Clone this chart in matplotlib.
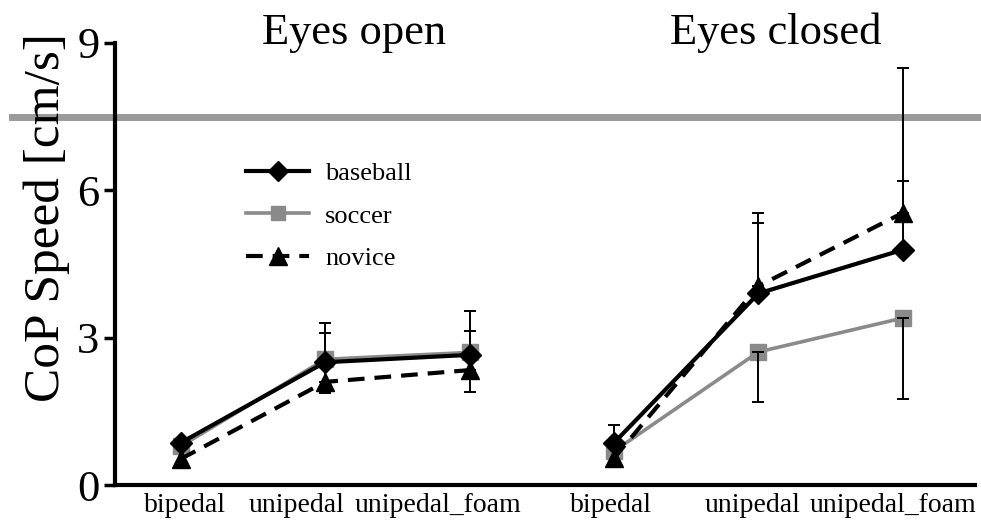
import matplotlib.pyplot as plt
import numpy as np

# conditions: eyes open (3) then eyes closed (3)
tasks = ["bipedal", "unipedal", "unipedal_foam", "bipedal", "unipedal", "unipedal_foam"]
conditions = ["Eyes open", "Eyes closed"]

baseball = [0.86, 2.50, 2.65, 0.86, 3.90, 4.79]
soccer = [0.79, 2.56, 2.70, 0.69, 2.71, 3.40]
novice = [0.53, 2.10, 2.34, 0.55, 4.05, 5.54]

# one-sided SD bars (up for baseball/novice, down for soccer)
baseball_sd = [0.0, 0.80, 0.90, 0.36, 1.43, 1.40]
novice_sd = [0.0, 1.00, 0.80, 0.0, 1.49, 2.95]
soccer_sd = [0.0, 0.69, 0.80, 0.0, 1.02, 1.65]

reference_level = 7.5


def main():
    plt.rcParams["font.family"] = ["Liberation Serif", "DejaVu Serif"]

    fig = plt.figure(figsize=(9.81, 5.29), dpi=100)
    ax = fig.add_axes([0.117, 0.083, 0.877, 0.836])

    x = np.arange(len(tasks)) * 1.0
    groups = [slice(0, 3), slice(3, 6)]

    styles = [
        ("soccer", soccer, soccer_sd, -1, dict(color="#8a8a8a", lw=2.6, ls="-", marker="s", ms=11)),
        ("baseball", baseball, baseball_sd, 1, dict(color="black", lw=3.0, ls="-", marker="D", ms=11)),
        ("novice", novice, novice_sd, 1, dict(color="black", lw=3.0, ls=(0, (4, 2.4)), marker="^", ms=13)),
    ]

    handles = {}
    for name, vals, sd, sign, st in styles:
        vals = np.array(vals)
        sd = np.array(sd)
        for g in groups:
            (ln,) = ax.plot(x[g], vals[g], zorder=3, **st)
        handles[name] = ln
        m = sd > 0
        lower = np.where(sign < 0, sd, 0)[m]
        upper = np.where(sign > 0, sd, 0)[m]
        ax.errorbar(x[m], vals[m], yerr=[lower, upper], fmt="none",
                    ecolor="black", elinewidth=1.4, capsize=4.5, capthick=1.4, zorder=4)

    ax.axhline(reference_level, xmin=-0.12, xmax=1.01, color="#9a9a9a", lw=5,
               clip_on=False, zorder=1)

    ax.set_xlim(-0.456, 5.5)
    ax.set_ylim(0, 9)
    ax.set_yticks([0, 3, 6, 9])
    ax.tick_params(axis="y", labelsize=32, length=8, width=2.5, pad=3)

    # tick labels sit slightly left of the points in the first group
    tick_pos = [0.03, 0.80, 1.78, 2.98, 3.96, 4.93]
    ax.set_xticks(tick_pos)
    ax.set_xticklabels(tasks)
    ax.tick_params(axis="x", labelsize=20, length=0, pad=6)

    for side in ["top", "right"]:
        ax.spines[side].set_visible(False)
    for side in ["left", "bottom"]:
        ax.spines[side].set_linewidth(3)

    ax.set_ylabel("CoP Speed [cm/s]", fontsize=37)
    ax.yaxis.set_label_coords(-0.052, 0.606)

    ax.text(1.2, 9.2, conditions[0], fontsize=32, ha="center", va="center", clip_on=False)
    ax.text(4.12, 9.2, conditions[1], fontsize=32, ha="center", va="center", clip_on=False)

    ax.legend([handles["baseball"], handles["soccer"], handles["novice"]],
              ["baseball", "soccer", "novice"],
              loc="upper left", bbox_to_anchor=(0.125, 0.785),
              frameon=False, fontsize=19, handlelength=2.4,
              labelspacing=0.72, handletextpad=0.6, markerscale=0.95)

    fig.savefig("out.png", dpi=100)


if __name__ == "__main__":
    main()
